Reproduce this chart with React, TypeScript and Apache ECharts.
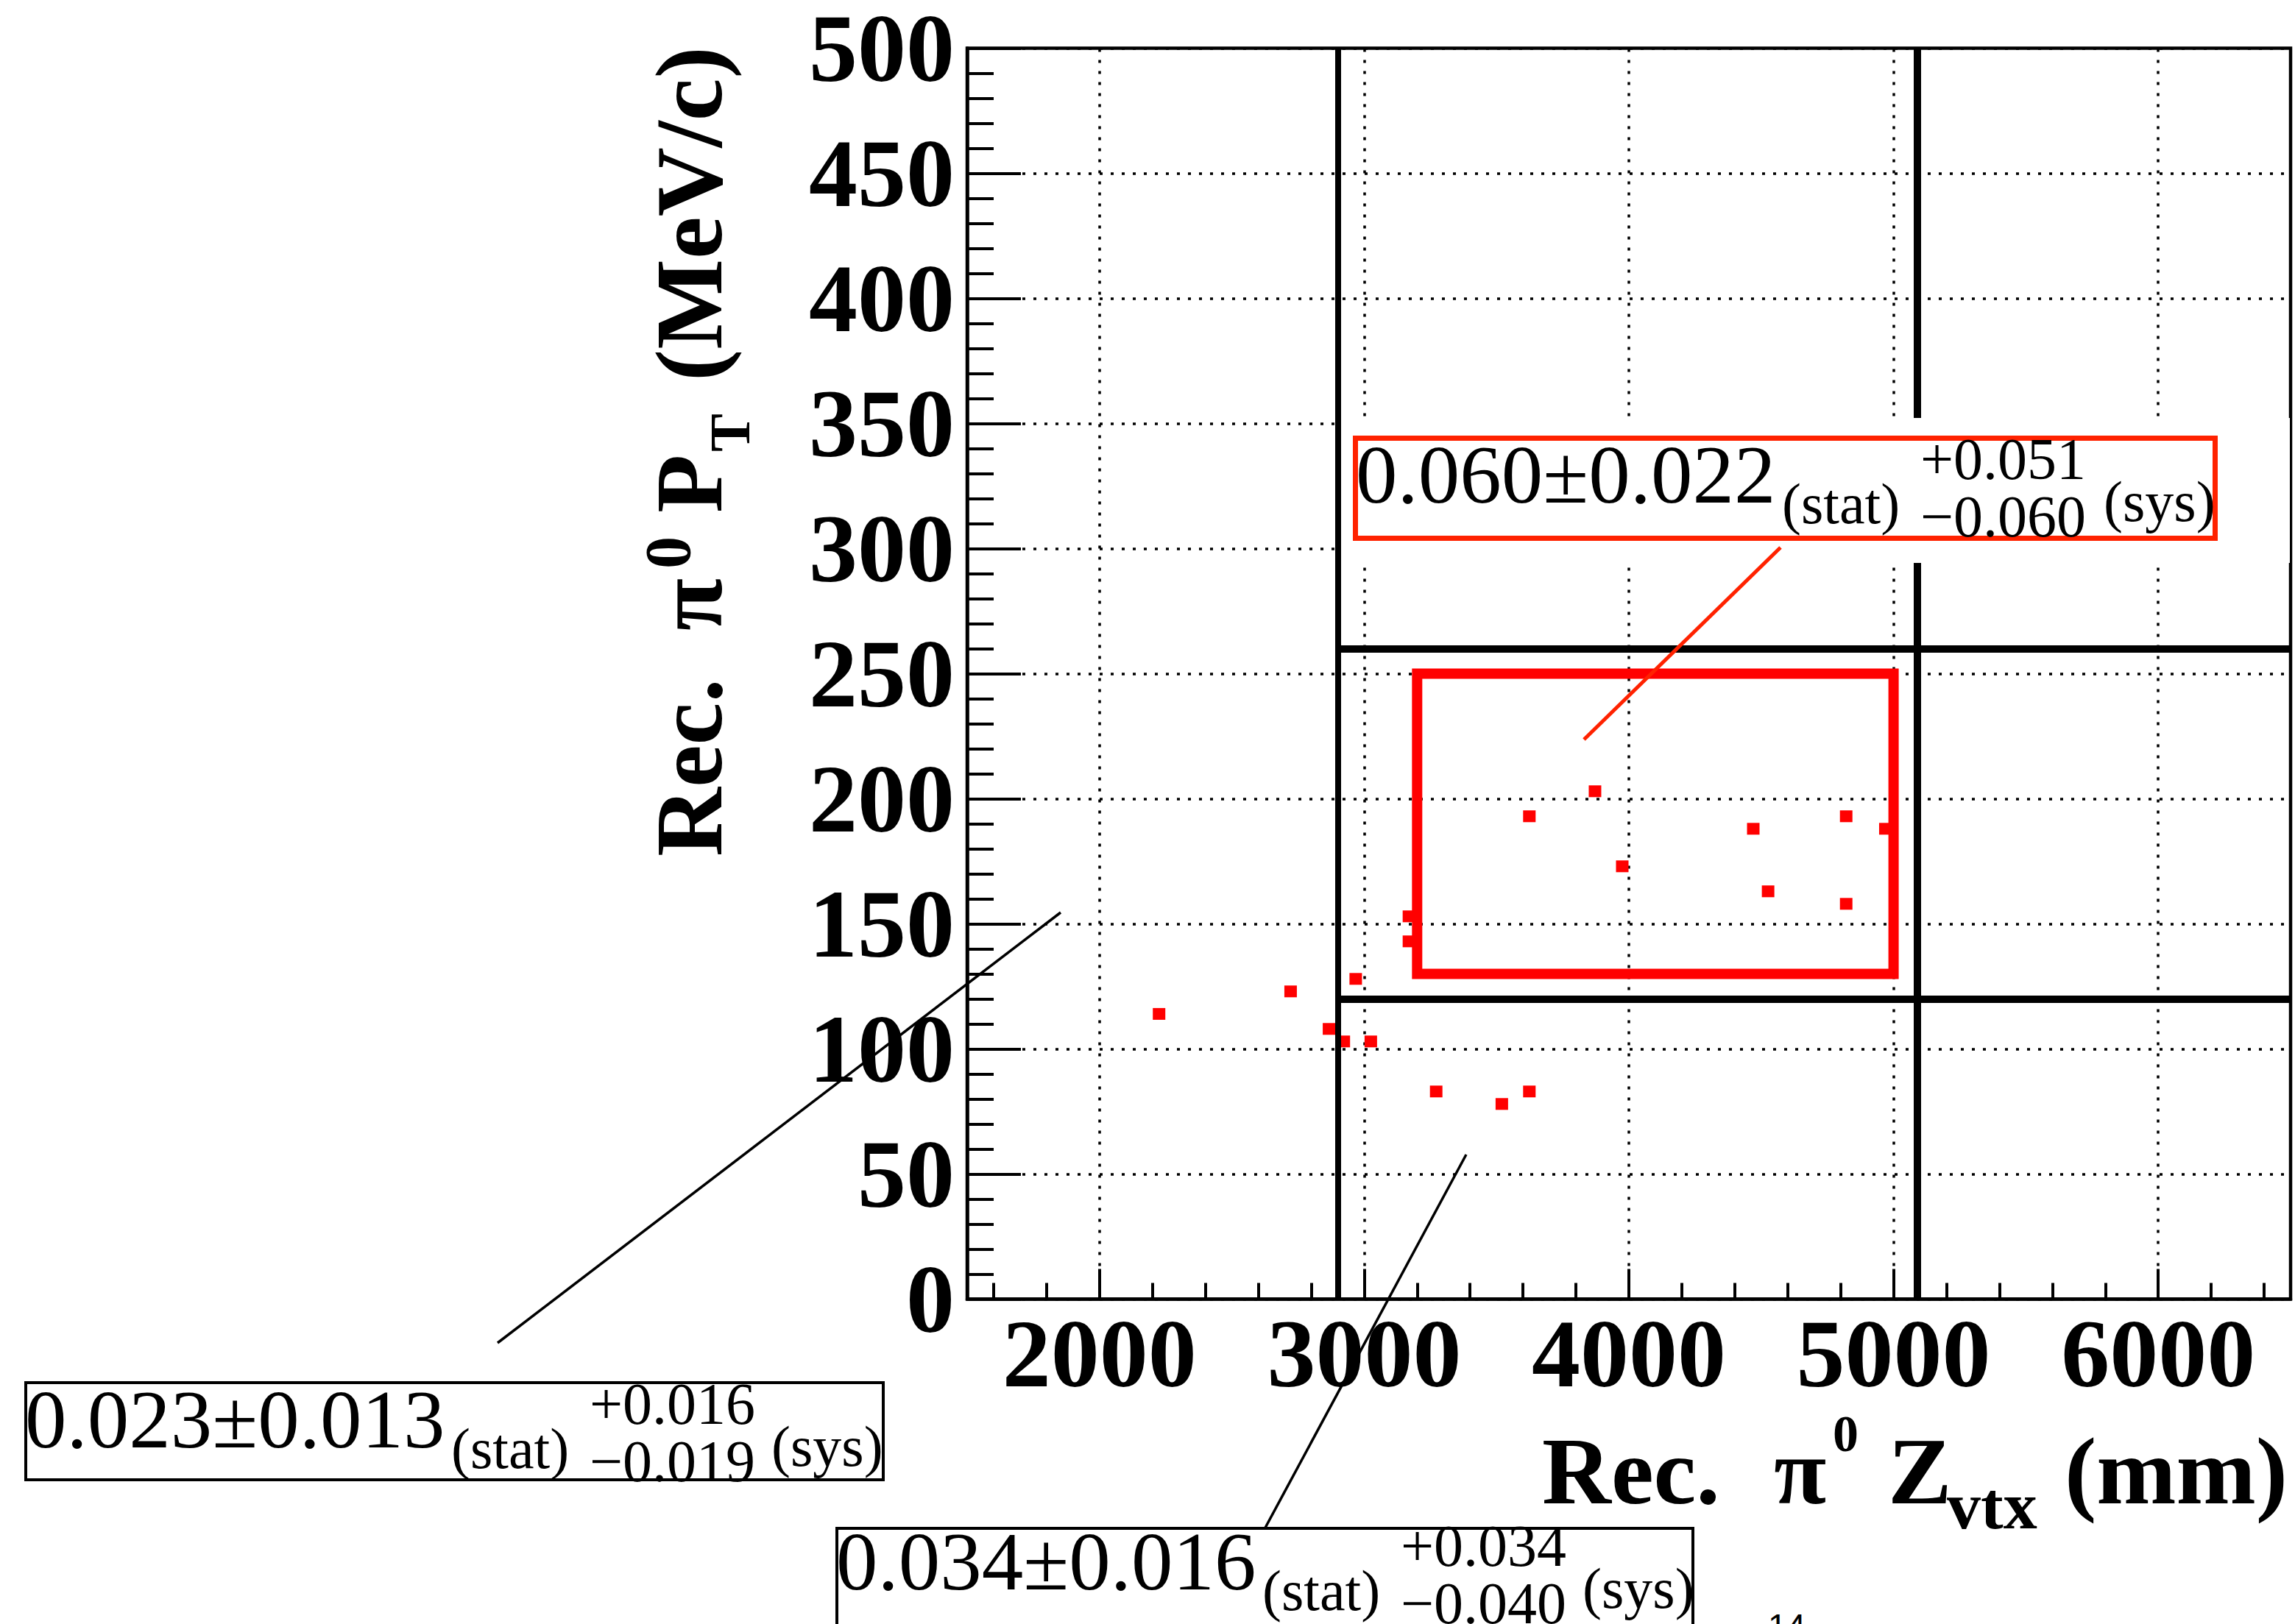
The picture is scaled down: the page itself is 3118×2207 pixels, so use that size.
import React, { useEffect, useRef } from "react";
import * as echarts from "echarts";

// Reconstructed pi0 candidates: vertex position (mm) and transverse momentum (MeV/c)
const zVtx = [2225, 2722, 2867, 2923, 3025, 2968, 3169, 3169, 3272, 3520, 3624, 3624, 3872, 3975, 4470, 4526, 4821, 4821, 4969];
const pT = [114, 123, 108, 103, 103, 128, 153, 143, 83, 78, 83, 193, 203, 173, 188, 163, 193, 158, 188];

// Axis ranges and ticks
const zRange = [1500, 6500];
const ptRange = [0, 500];
const zMajorTicks = [2000, 3000, 4000, 5000, 6000];
const zMinorTicks = [1600, 1800, 2200, 2400, 2600, 2800, 3200, 3400, 3600, 3800, 4200, 4400, 4600, 4800, 5200, 5400, 5600, 5800, 6200, 6400];

// Region boundaries
const zCuts = [2900, 5090];
const ptCuts = [120, 260];
const signalZ = [3200, 5000];
const signalPt = [130, 250];

// Ratios quoted for each region: central ± stat, +sys / −sys
const ratioCentral = ["0.023±0.013", "0.034±0.016", "0.060±0.022"];
const ratioSysUp = ["+0.016", "+0.034", "+0.051"];
const ratioSysDown = ["−0.019", "−0.040", "−0.060"];

const SERIF = "'Liberation Serif', 'Times New Roman', serif";
const SANS = "'Liberation Sans', Arial, sans-serif";
const CENTRAL = 0.3375; // central baseline above the alphabetic one, in em

function txt(
  text: string,
  x: number,
  baseline: number,
  size: number,
  weight: string = "normal",
  family: string = SERIF,
  z: number = 110
) {
  return {
    type: "text",
    silent: true,
    z,
    x,
    y: baseline - CENTRAL * size,
    style: {
      text,
      fill: "#000",
      fontSize: size,
      fontWeight: weight,
      fontFamily: family,
      align: "left",
      verticalAlign: "middle",
    },
  };
}

// One "central ± stat (stat) +up −down (sys)" block, anchored at its first glyph
function ratioText(i: number, x0: number, b0: number, sysDx: number) {
  return [
    txt(ratioCentral[i], x0, b0, 113),
    txt("(stat)", x0 + 579, b0 + 28, 78),
    txt(ratioSysUp[i], x0 + 767, b0 - 32, 80),
    txt(ratioSysDown[i], x0 + 767, b0 + 46, 80),
    txt("(sys)", x0 + sysDx, b0 + 25, 78),
  ];
}

function buildOption() {
  const points = zVtx.map((z, i) => [z, pT[i]]);

  const thickLines = [
    { coords: [[zCuts[0], ptRange[0]], [zCuts[0], ptRange[1]]], lineStyle: { width: 8 } },
    { coords: [[zCuts[1], ptRange[0]], [zCuts[1], ptRange[1]]], lineStyle: { width: 10 } },
    { coords: [[zCuts[0], ptCuts[0]], [zRange[1], ptCuts[0]]], lineStyle: { width: 10 } },
    { coords: [[zCuts[0], ptCuts[1]], [zRange[1], ptCuts[1]]], lineStyle: { width: 10 } },
  ];

  const signalLoop = [
    [signalZ[0], signalPt[0]],
    [signalZ[0], signalPt[1]],
    [signalZ[1], signalPt[1]],
    [signalZ[1], signalPt[0]],
    [signalZ[0], signalPt[0]],
  ];

  const labelFont = { fontFamily: SERIF, fontWeight: "bold", fontSize: 132, color: "#000" };

  const graphic: any[] = [
    // white pad behind the signal-region label
    { type: "rect", z: 100, silent: true, shape: { x: 1822, y: 568, width: 1289, height: 197 }, style: { fill: "#fff" } },
    // signal-region label box and pointer
    { type: "rect", z: 101, silent: true, shape: { x: 1841.5, y: 595.5, width: 1168, height: 136 }, style: { fill: "#fff", stroke: "#ff2200", lineWidth: 7 } },
    { type: "line", z: 101, silent: true, shape: { x1: 2419, y1: 744, x2: 2152, y2: 1005 }, style: { stroke: "#ff2200", lineWidth: 5 } },
    ...ratioText(2, 1842, 683, 1016),
    // low-pT region label
    { type: "rect", z: 101, silent: true, shape: { x: 35, y: 1879, width: 1165, height: 132 }, style: { fill: "#fff", stroke: "#000", lineWidth: 4 } },
    { type: "line", z: 101, silent: true, shape: { x1: 676, y1: 1825, x2: 1441, y2: 1240 }, style: { stroke: "#000", lineWidth: 3.5 } },
    ...ratioText(0, 34, 1967, 1014),
    // low-pT downstream region label
    { type: "rect", z: 101, silent: true, shape: { x: 1137, y: 2077, width: 1163, height: 132 }, style: { fill: "#fff", stroke: "#000", lineWidth: 4 } },
    { type: "line", z: 101, silent: true, shape: { x1: 1718, y1: 2078, x2: 1992, y2: 1569 }, style: { stroke: "#000", lineWidth: 3.5 } },
    ...ratioText(1, 1136, 2160, 1014),
    // x-axis title
    txt("Rec.", 2095, 2043, 130, "bold"),
    txt("π", 2410, 2043, 130, "bold"),
    txt("0", 2490, 1972, 70, "bold"),
    txt("Z", 2565, 2043, 130, "bold"),
    txt("vtx", 2645, 2077, 92, "bold"),
    txt("(mm)", 2805, 2043, 130, "bold"),
    // y-axis title, rotated to read upwards
    {
      type: "group",
      x: 980,
      y: 1164,
      rotation: Math.PI / 2,
      children: [
        txt("Rec.  π", 0, 0, 130, "bold"),
        txt("0", 391, -43, 88, "bold"),
        txt("P", 467, 0, 130, "bold"),
        txt("T", 550, 38, 78, "bold"),
        txt("(MeV/c)", 646, 0, 130, "bold"),
      ],
    },
    // page number
    txt("14", 2402, 2226, 46, "normal", SANS),
  ];

  return {
    animation: false,
    backgroundColor: "#fff",
    grid: {
      left: 1314,
      top: 65.5,
      width: 1798,
      height: 1700,
      show: true,
      borderColor: "#000",
      borderWidth: 4.5,
      backgroundColor: "transparent",
      containLabel: false,
      outerBoundsMode: "none",
    },
    xAxis: [
      {
        type: "value",
        min: zRange[0],
        max: zRange[1],
        position: "bottom",
        axisLine: { show: true, onZero: false, lineStyle: { color: "#000", width: 4.5 } },
        axisTick: { show: true, inside: true, length: 41, customValues: zMajorTicks, lineStyle: { color: "#000", width: 4 } },
        axisLabel: {
          show: true,
          customValues: zMajorTicks,
          margin: 8,
          formatter: (v: number) => String(v),
          ...labelFont,
        },
        splitLine: { show: false },
        minorTick: { show: false },
      },
      {
        type: "value",
        min: zRange[0],
        max: zRange[1],
        position: "bottom",
        gridIndex: 0,
        axisLine: { show: false },
        axisTick: { show: true, inside: true, length: 22, customValues: zMinorTicks, lineStyle: { color: "#000", width: 4 } },
        axisLabel: { show: false },
        splitLine: { show: false },
      },
    ],
    yAxis: {
      type: "value",
      min: ptRange[0],
      max: ptRange[1],
      interval: 50,
      axisLine: { show: true, onZero: false, lineStyle: { color: "#000", width: 4.5 } },
      axisTick: { show: true, inside: true, length: 73, lineStyle: { color: "#000", width: 4 } },
      minorTick: { show: true, splitNumber: 5, length: 36, lineStyle: { color: "#000", width: 4 } },
      axisLabel: {
        margin: 17,
        showMinLabel: true,
        showMaxLabel: true,
        hideOverlap: false,
        lineHeight: 96,
        formatter: (v: number) => String(v),
        ...labelFont,
      },
      splitLine: { show: true, lineStyle: { color: "#000", width: 3.5, type: [4, 11] } },
      minorSplitLine: { show: false },
    },
    series: [
      {
        type: "lines",
        coordinateSystem: "cartesian2d",
        silent: true,
        z: 1,
        data: zMajorTicks.map((v) => ({ coords: [[v, ptRange[0]], [v, ptRange[1]]] })),
        lineStyle: { color: "#000", width: 3.5, type: [4, 11], opacity: 1, curveness: 0 },
      },
      {
        type: "scatter",
        silent: true,
        z: 3,
        data: points,
        symbol: "rect",
        symbolSize: [17, 16],
        itemStyle: { color: "#ff0000", opacity: 1 },
      },
      {
        type: "lines",
        coordinateSystem: "cartesian2d",
        polyline: true,
        silent: true,
        z: 4,
        data: [{ coords: signalLoop }],
        lineStyle: { color: "#ff0000", width: 14, opacity: 1, cap: "square", join: "miter", curveness: 0 },
      },
      {
        type: "lines",
        coordinateSystem: "cartesian2d",
        silent: true,
        z: 5,
        data: thickLines,
        lineStyle: { color: "#000", width: 10, opacity: 1, curveness: 0 },
      },
    ],
    graphic,
  };
}

export default function App() {
  const ref = useRef<HTMLDivElement>(null);
  useEffect(() => {
    if (!ref.current) return;
    const chart = echarts.init(ref.current, undefined, { renderer: "svg" });
    chart.setOption(buildOption() as any);
    return () => chart.dispose();
  }, []);
  return (
    <div
      ref={ref}
      style={{ position: "fixed", left: 0, top: 0, width: 3118, height: 2207, background: "#fff" }}
    />
  );
}
